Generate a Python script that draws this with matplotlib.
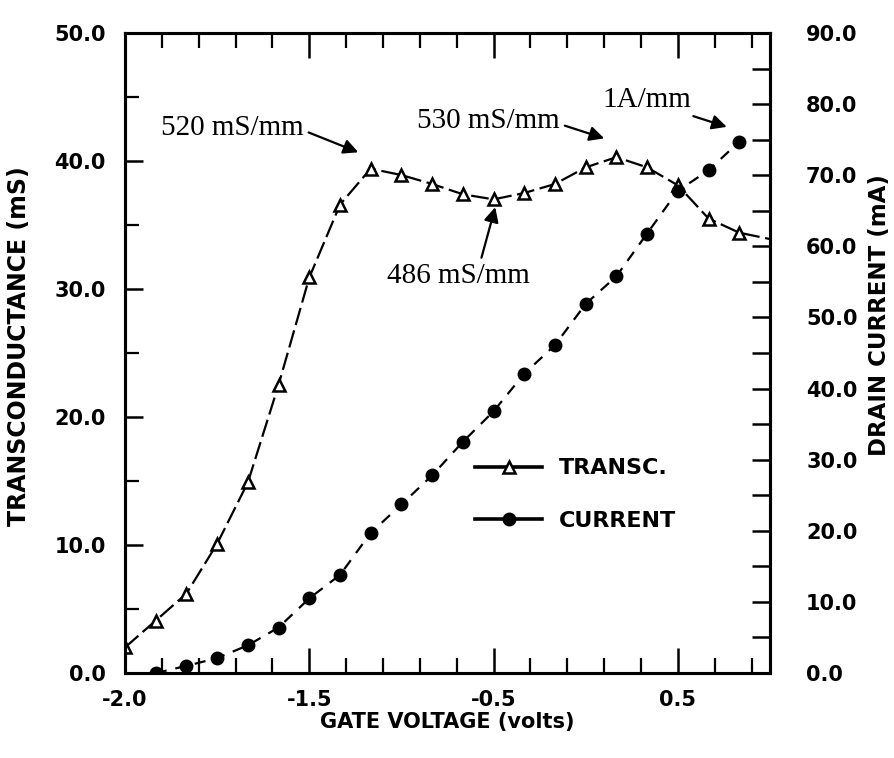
import matplotlib.pyplot as plt
from matplotlib.lines import Line2D
from matplotlib.ticker import MultipleLocator, FixedLocator, FixedFormatter

# gate voltage positions along the axis (labelled ticks at -2, -1, 0, 1)
gate = [-2.0, -1.833, -1.667, -1.5, -1.333, -1.167, -1.0, -0.833, -0.667,
        -0.5, -0.333, -0.167, 0.0, 0.167, 0.333, 0.5, 0.667, 0.833, 1.0,
        1.167, 1.333, 1.5]
transc = [2.0, 4.1, 6.2, 10.1, 14.9, 22.5, 30.9, 36.6, 39.4, 38.9, 38.2,
          37.4, 37.0, 37.5, 38.2, 39.5, 40.3, 39.5, 38.1, 35.5, 34.4, 33.9]
current = [0.0, 1.0, 2.1, 3.9, 6.4, 10.5, 13.8, 19.7, 23.7, 27.8, 32.5,
           36.8, 42.1, 46.1, 51.9, 55.8, 61.8, 67.8, 70.7, 74.7]

xtick_pos = [-2.0, -1.0, 0.0, 1.0]
xtick_lbl = ['-2.0', '-1.5', '-0.5', '0.5']

bold = {'family': 'DejaVu Sans', 'weight': 'bold'}
serif = {'family': 'Liberation Serif', 'size': 21}

fig = plt.figure(figsize=(8.95, 7.58), dpi=100)
ax = fig.add_axes([0.1397, 0.1121, 0.7206, 0.8444])
ax2 = ax.twinx()

# transconductance (left axis)
ax.plot(gate, transc, color='black', lw=1.6, dashes=(8, 2.5),
        marker='^', ms=9, mfc='white', mec='black', mew=1.8,
        markevery=list(range(21)))
# drain current (right axis)
ax2.plot(gate[1:21], current, color='black', lw=1.6, dashes=(5, 4),
         marker='o', ms=9, mfc='black', mec='black')

ax.set_xlim(-2.0, 1.5)
ax.set_ylim(0, 50)
ax2.set_ylim(0, 90)

for a in (ax, ax2):
    for s in a.spines.values():
        s.set_linewidth(2.2)

ax.xaxis.set_major_locator(FixedLocator(xtick_pos))
ax.xaxis.set_major_formatter(FixedFormatter(xtick_lbl))
ax.xaxis.set_minor_locator(MultipleLocator(0.2))
ax.yaxis.set_major_locator(MultipleLocator(10))
ax.yaxis.set_minor_locator(MultipleLocator(5))
ax.yaxis.set_major_formatter('{x:.1f}')
ax2.yaxis.set_major_locator(MultipleLocator(10))
ax2.yaxis.set_minor_locator(MultipleLocator(5))
ax2.yaxis.set_major_formatter('{x:.1f}')

ax.tick_params(axis='x', which='major', direction='in', length=18, width=1.8,
               top=True, pad=12, labelsize=15)
ax.tick_params(axis='x', which='minor', direction='in', length=11, width=1.6,
               top=True)
ax.tick_params(axis='y', which='major', direction='in', length=13, width=1.8,
               pad=14, labelsize=15)
ax.tick_params(axis='y', which='minor', direction='in', length=10, width=1.6)
ax2.tick_params(axis='y', which='both', direction='in', length=13, width=1.8,
                pad=26, labelsize=15)

for lbl in ax.get_xticklabels() + ax.get_yticklabels() + ax2.get_yticklabels():
    lbl.set_fontfamily('DejaVu Sans')
    lbl.set_fontweight('bold')

ax.set_xlabel('GATE VOLTAGE (volts)', fontsize=15, labelpad=2, **bold)
ax.set_ylabel('TRANSCONDUCTANCE (mS)', fontsize=17, **bold)
ax.yaxis.set_label_coords(-0.146, 0.51)
ax2.set_ylabel('DRAIN CURRENT (mA)', fontsize=16.5, rotation=90, **bold)
ax2.yaxis.set_label_coords(1.152, 0.56)

arrow = dict(arrowstyle='-|>', color='black', lw=1.6, mutation_scale=22)
ax2.annotate('520 mS/mm', xy=(-0.72, 40.6), xytext=(-1.42, 42.6),
             xycoords=ax.transData, textcoords=ax.transData,
             ha='center', va='center', arrowprops=dict(arrow, relpos=(1, 0.4)),
             **serif)
ax2.annotate('530 mS/mm', xy=(0.615, 41.7), xytext=(-0.03, 43.1),
             xycoords=ax.transData, textcoords=ax.transData,
             ha='center', va='center', arrowprops=dict(arrow, relpos=(1, 0.4)),
             **serif)
ax2.annotate('486 mS/mm', xy=(0.013, 36.6), xytext=(-0.19, 31.0),
             xycoords=ax.transData, textcoords=ax.transData,
             ha='center', va='center', arrowprops=dict(arrow, relpos=(0.65, 1)),
             **serif)
ax2.annotate('1A/mm', xy=(1.28, 42.6), xytext=(0.83, 44.8),
             xycoords=ax.transData, textcoords=ax.transData,
             ha='center', va='center', arrowprops=dict(arrow, relpos=(0.9, 0)),
             **serif)

handles = [
    Line2D([], [], color='black', lw=2.6, marker='^', ms=9, mfc='white',
           mec='black', mew=1.8),
    Line2D([], [], color='black', lw=2.6, marker='o', ms=9, mfc='black'),
]
leg = ax2.legend(handles, ['TRANSC.', 'CURRENT'], loc='center left',
                 bbox_to_anchor=(0.543, 0.279), frameon=False,
                 borderaxespad=0, borderpad=0, handlelength=3.0,
                 labelspacing=1.45, handletextpad=0.75,
                 prop={'family': 'DejaVu Sans', 'weight': 'bold', 'size': 16})

fig.savefig('out.png', dpi=100)
